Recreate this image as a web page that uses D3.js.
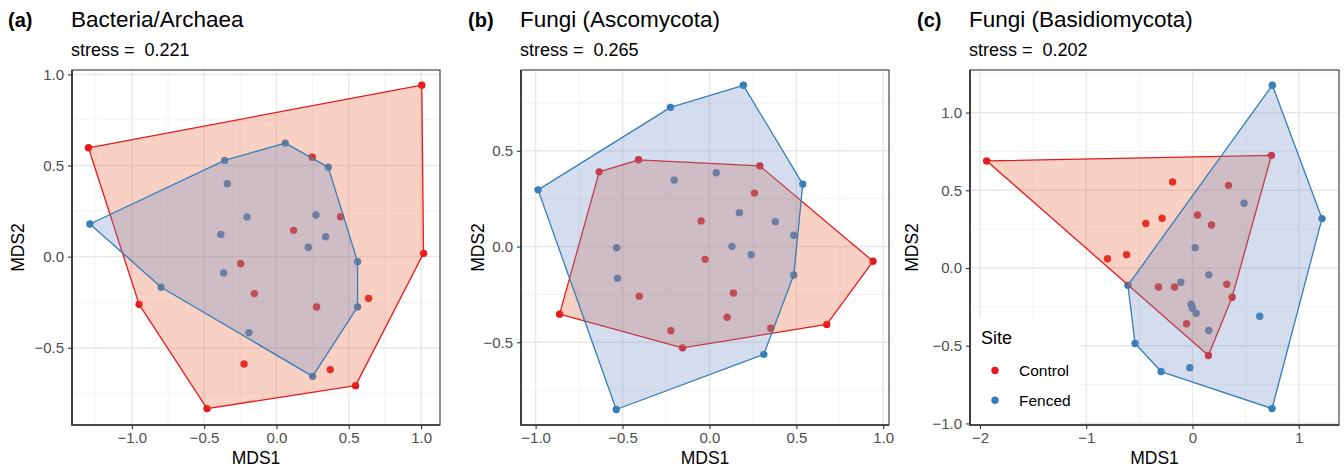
<!DOCTYPE html>
<html><head><meta charset="utf-8">
<script src="https://cdn.jsdelivr.net/npm/d3@7"></script>
<style>body{margin:0;background:#fff}svg{display:block}text{font-family:"Liberation Sans",Arial,sans-serif;white-space:pre}</style>
</head><body><svg id="c" width="1344" height="469"></svg>
<script>
// ---------- data ----------
const panelLetters = ["(a)", "(b)", "(c)"];
const panelTitles = ["Bacteria/Archaea", "Fungi (Ascomycota)", "Fungi (Basidiomycota)"];
const stressValues = ["0.221", "0.265", "0.202"];
const sites = ["Control", "Fenced"];

// Panel a
const aControl = [[-1.300,0.597],[1.005,0.941],[1.017,0.018],[0.547,-0.708],[-0.480,-0.834],[-0.950,-0.262],
  [0.247,0.545],[0.443,0.219],[0.119,0.144],[-0.247,-0.039],[-0.153,-0.203],[0.278,-0.276],[0.637,-0.229],[-0.224,-0.589],[0.372,-0.620]];
const aFenced = [[-1.290,0.179],[-0.358,0.528],[0.061,0.623],[0.358,0.491],[0.561,-0.028],[0.561,-0.276],[0.250,-0.657],[-0.798,-0.168],
  [-0.340,0.400],[-0.204,0.217],[-0.385,0.122],[0.273,0.228],[0.340,0.109],[0.220,0.051],[-0.365,-0.090],[-0.190,-0.417]];
// Panel b
const bControl = [[-0.634,0.390],[-0.408,0.453],[0.290,0.421],[0.941,-0.077],[0.675,-0.407],[-0.155,-0.529],[-0.862,-0.353],
  [0.259,0.279],[-0.048,0.134],[-0.025,-0.067],[0.138,-0.243],[-0.404,-0.259],[0.102,-0.369],[-0.222,-0.440],[0.353,-0.427]];
const bFenced = [[-0.986,0.296],[-0.224,0.727],[0.195,0.842],[0.537,0.326],[0.485,-0.149],[0.313,-0.563],[-0.536,-0.851],
  [-0.203,0.347],[0.039,0.385],[0.172,0.177],[0.379,0.130],[0.485,0.059],[-0.534,-0.006],[0.129,0.001],[0.240,-0.043],[-0.529,-0.165]];
// Panel c
const cControl = [[-1.937,0.689],[0.743,0.725],[0.150,-0.563],
  [-0.188,0.554],[0.339,0.532],[0.047,0.341],[0.179,0.277],[-0.286,0.320],[-0.439,0.286],[-0.621,0.086],[-0.800,0.060],
  [-0.320,-0.122],[-0.169,-0.122],[0.323,-0.104],[0.373,-0.188],[-0.056,-0.359]];
const cFenced = [[0.752,1.176],[1.219,0.318],[0.749,-0.904],[-0.295,-0.666],[-0.540,-0.486],[-0.608,-0.111],
  [0.486,0.417],[0.025,0.131],[0.153,-0.044],[-0.110,-0.092],[-0.013,-0.233],[0.000,-0.259],[0.034,-0.291],[0.633,-0.310],[0.153,-0.402],[-0.025,-0.641]];

const xTicksA = [-1.0,-0.5,0.0,0.5,1.0], yTicksA = [-0.5,0.0,0.5,1.0];
const xTicksB = [-1.0,-0.5,0.0,0.5,1.0], yTicksB = [-0.5,0.0,0.5];
const xTicksC = [-2,-1,0,1], yTicksC = [-1.0,-0.5,0.0,0.5,1.0];
const xMinorA = [-1.25,-0.75,-0.25,0.25,0.75], yMinorA = [-0.75,-0.25,0.25,0.75];
const xMinorB = [-0.75,-0.25,0.25,0.75], yMinorB = [-0.75,-0.25,0.25,0.75];
const xMinorC = [-1.5,-0.5,0.5], yMinorC = [-0.75,-0.25,0.25,0.75,1.25];

// ---------- layout ----------
const panels = [
  {ctrl:aControl, fen:aFenced, xd:[-1.414,1.131], yd:[-0.924,1.024], L:72, R:440, T:70, B:425,
   xt:xTicksA, yt:yTicksA, xm:xMinorA, ym:yMinorA, fmt:d3.format(".1f"), xfmt:d3.format(".1f"), letterX:8, yTitleX:18},
  {ctrl:bControl, fen:bFenced, xd:[-1.084,1.033], yd:[-0.932,0.922], L:521, R:889, T:70, B:425,
   xt:xTicksB, yt:yTicksB, xm:xMinorB, ym:yMinorB, fmt:d3.format(".1f"), xfmt:d3.format(".1f"), letterX:468, yTitleX:478},
  {ctrl:cControl, fen:cFenced, xd:[-2.094,1.379], yd:[-1.01,1.274], L:970, R:1339, T:70, B:425,
   xt:xTicksC, yt:yTicksC, xm:xMinorC, ym:yMinorC, fmt:d3.format(".1f"), xfmt:d3.format("d"), letterX:917, yTitleX:912, legend:true}
];
const colCtrl = "#E41A1C", colFen = "#377EB8";
const fillCtrl = "#E8683A", fillFen = "#6C8EC4";
const minus = s => s.replace("-", "\u2212");

const svg = d3.select("#c");
panels.forEach((p, i) => {
  const x = d3.scaleLinear().domain(p.xd).range([p.L, p.R]);
  const y = d3.scaleLinear().domain(p.yd).range([p.B, p.T]);
  const g = svg.append("g");
  // background grid
  g.selectAll(".xm").data(p.xm).join("line").attr("x1", d=>x(d)).attr("x2", d=>x(d)).attr("y1", p.T).attr("y2", p.B)
    .attr("stroke", "#efefef").attr("stroke-width", 0.8);
  g.selectAll(".ym").data(p.ym).join("line").attr("y1", d=>y(d)).attr("y2", d=>y(d)).attr("x1", p.L).attr("x2", p.R)
    .attr("stroke", "#efefef").attr("stroke-width", 0.8);
  g.selectAll(".xg").data(p.xt).join("line").attr("x1", d=>x(d)).attr("x2", d=>x(d)).attr("y1", p.T).attr("y2", p.B)
    .attr("stroke", "#e8e8e8").attr("stroke-width", 1.4);
  g.selectAll(".yg").data(p.yt).join("line").attr("y1", d=>y(d)).attr("y2", d=>y(d)).attr("x1", p.L).attr("x2", p.R)
    .attr("stroke", "#e8e8e8").attr("stroke-width", 1.4);

  // points (drawn beneath the hulls)
  [[p.ctrl, colCtrl], [p.fen, colFen]].forEach(([data, col]) => {
    g.append("g").selectAll("circle").data(data).join("circle")
      .attr("cx", d=>x(d[0])).attr("cy", d=>y(d[1])).attr("r", 3.7).attr("fill", col);
  });
  // hulls
  const line = d3.line().x(d=>x(d[0])).y(d=>y(d[1])).curve(d3.curveLinearClosed);
  [[p.ctrl, colCtrl, fillCtrl], [p.fen, colFen, fillFen]].forEach(([data, col, fc]) => {
    const hull = d3.polygonHull(data);
    g.append("path").attr("d", line(hull)).attr("fill", fc).attr("fill-opacity", 0.3)
      .attr("stroke", col).attr("stroke-width", 1.3).attr("stroke-linejoin", "round");
  });

  // legend
  if (p.legend) {
    const lg = g.append("g");
    lg.append("rect").attr("x", p.L + 1).attr("y", 318).attr("width", 109).attr("height", p.B - 318 - 1).attr("fill", "#fff");
    lg.append("text").attr("x", 981).attr("y", 344).attr("font-size", 18).attr("fill", "#000").text("Site");
    sites.forEach((s, k) => {
      const yy = 370.5 + k * 29.7;
      lg.append("circle").attr("cx", 995).attr("cy", yy).attr("r", 3.7).attr("fill", k === 0 ? colCtrl : colFen);
      lg.append("text").attr("x", 1019).attr("y", yy + 5.5).attr("font-size", 15.5).attr("fill", "#000").text(s);
    });
  }

  // panel border
  g.append("rect").attr("x", p.L).attr("y", p.T).attr("width", p.R - p.L).attr("height", p.B - p.T)
    .attr("fill", "none").attr("stroke", "#333").attr("stroke-width", 1.1);
  g.append("line").attr("x1", p.L).attr("x2", p.L).attr("y1", p.T).attr("y2", p.B + 0.8).attr("stroke", "#333").attr("stroke-width", 1.7);
  g.append("line").attr("x1", p.L).attr("x2", p.R).attr("y1", p.B).attr("y2", p.B).attr("stroke", "#333").attr("stroke-width", 1.7);

  // axes
  const xa = d3.axisBottom(x).tickValues(p.xt).tickSize(4).tickPadding(3).tickFormat(d => minus(p.xfmt(d)));
  const ya = d3.axisLeft(y).tickValues(p.yt).tickSize(4).tickPadding(4).tickFormat(d => minus(p.fmt(d)));
  const gx = g.append("g").attr("transform", `translate(0,${p.B})`).call(xa);
  const gy = g.append("g").attr("transform", `translate(${p.L},0)`).call(ya);
  [gx, gy].forEach(a => {
    a.select(".domain").remove();
    a.selectAll("line").attr("stroke", "#333").attr("stroke-width", 1.1);
    a.selectAll("text").attr("fill", "#4d4d4d").attr("font-size", 15).attr("font-family", '"Liberation Sans",Arial,sans-serif');
  });

  // axis titles
  g.append("text").attr("x", (p.L + p.R) / 2).attr("y", 464).attr("text-anchor", "middle").attr("font-size", 17.5).text("MDS1");
  g.append("text").attr("transform", `translate(${p.yTitleX + 6},${(p.T + p.B) / 2}) rotate(-90)`).attr("text-anchor", "middle")
    .attr("font-size", 17.5).text("MDS2");

  // titles
  g.append("text").attr("x", p.letterX).attr("y", 27).attr("font-size", 20).attr("font-weight", "bold").text(panelLetters[i]);
  g.append("text").attr("x", p.L - 1).attr("y", 27).attr("font-size", 22.5).text(panelTitles[i]);
  g.append("text").attr("x", p.L - 1).attr("y", 56).attr("font-size", 18).text("stress =  " + stressValues[i]);
});
</script></body></html>
